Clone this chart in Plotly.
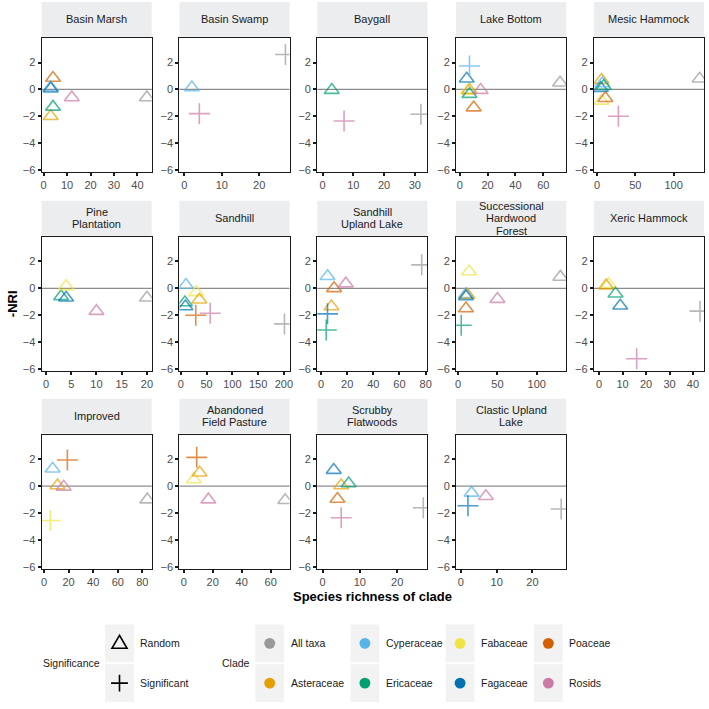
import plotly.graph_objects as go

# ---------------- data ----------------
PANELS = ["Basin Marsh", "Basin Swamp", "Baygall", "Lake Bottom", "Mesic Hammock",
          "Pine Plantation", "Sandhill", "Sandhill Upland Lake", "Successional Hardwood Forest", "Xeric Hammock",
          "Improved", "Abandoned Field Pasture", "Scrubby Flatwoods", "Clastic Upland Lake"]
STRIP_LABELS = [["Basin Marsh"], ["Basin Swamp"], ["Baygall"], ["Lake Bottom"], ["Mesic Hammock"],
                ["Pine", "Plantation"], ["Sandhill"], ["Sandhill", "Upland Lake"],
                ["Successional", "Hardwood", "Forest"], ["Xeric Hammock"],
                ["Improved"], ["Abandoned", "Field Pasture"], ["Scrubby", "Flatwoods"],
                ["Clastic Upland", "Lake"]]
X_RANGES = [[-0.85, 46.1], [-1.3, 28.1], [-1.7, 34.1], [-2.6, 76.4], [-3.9, 139.7],
            [-0.85, 20.95], [-2.5, 210.9], [-2.8, 81.3], [-2.5, 137.4], [-2.2, 44.7],
            [-1.9, 87.6], [-2.9, 73.0], [-1.4, 28.1], [-1.3, 29.4]]
X_DTICKS = [10, 10, 10, 20, 50, 5, 50, 20, 50, 10, 20, 20, 10, 10]
Y_RANGE = [-6.15, 3.85]
Y_TICKS = [-6, -4, -2, 0, 2]

HABITAT = (["Basin Marsh"] * 7 + ["Basin Swamp"] * 3 + ["Baygall"] * 3 + ["Lake Bottom"] * 8 +
           ["Mesic Hammock"] * 8 + ["Pine Plantation"] * 5 + ["Sandhill"] * 8 +
           ["Sandhill Upland Lake"] * 7 + ["Successional Hardwood Forest"] * 8 + ["Xeric Hammock"] * 6 +
           ["Improved"] * 6 + ["Abandoned Field Pasture"] * 5 + ["Scrubby Flatwoods"] * 6 +
           ["Clastic Upland Lake"] * 4)
CLADE = [
    "Asteraceae", "Ericaceae", "Poaceae", "Cyperaceae", "Fagaceae", "Rosids", "All taxa",
    "Cyperaceae", "Rosids", "All taxa",
    "Ericaceae", "Rosids", "All taxa",
    "Fabaceae", "Asteraceae", "Ericaceae", "Fagaceae", "Cyperaceae", "Rosids", "Poaceae", "All taxa",
    "Fabaceae", "Poaceae", "Asteraceae", "Fagaceae", "Cyperaceae", "Ericaceae", "Rosids", "All taxa",
    "Ericaceae", "Fagaceae", "Fabaceae", "Rosids", "All taxa",
    "Cyperaceae", "Fabaceae", "Asteraceae", "Ericaceae", "Fagaceae", "Poaceae", "Rosids", "All taxa",
    "Cyperaceae", "Poaceae", "Rosids", "Asteraceae", "Fagaceae", "Ericaceae", "All taxa",
    "Cyperaceae", "Asteraceae", "Fagaceae", "Fabaceae", "Poaceae", "Ericaceae", "Rosids", "All taxa",
    "Fabaceae", "Asteraceae", "Ericaceae", "Fagaceae", "Rosids", "All taxa",
    "Cyperaceae", "Poaceae", "Asteraceae", "Rosids", "Fabaceae", "All taxa",
    "Fabaceae", "Asteraceae", "Poaceae", "Rosids", "All taxa",
    "Fagaceae", "Asteraceae", "Ericaceae", "Poaceae", "Rosids", "All taxa",
    "Cyperaceae", "Rosids", "Fagaceae", "All taxa",
]
RICHNESS = [
    3, 4, 4, 3, 3, 12, 44,
    2, 4, 27,
    3, 7, 32,
    6, 7, 7, 5, 7, 15, 10, 72,
    6, 11, 6, 5, 7, 9, 28, 134,
    3, 4, 4, 10, 20,
    10, 30, 36, 8, 9, 29, 57, 201,
    5, 10, 19, 8, 5, 4, 77,
    10, 12, 10, 14, 10, 4, 50, 130,
    4, 3, 7, 9, 16, 43,
    7, 19, 11, 16, 5, 84,
    7, 11, 9, 17, 70,
    3, 5, 7, 4, 5, 27,
    3, 7, 2, 28,
]
NEG_NRI = [
    -2.0, -1.3, 0.85, 0.15, 0.05, -0.6, -0.6,
    0.15, -1.8, 2.6,
    -0.05, -2.35, -1.85,
    -0.1, -0.05, -0.35, 0.8, 1.75, -0.05, -1.35, 0.5,
    -0.85, -0.65, 0.7, 0.1, 0.45, 0.25, -2.0, 0.8,
    -0.6, -0.7, 0.15, -1.7, -0.7,
    0.25, -0.3, -0.85, -1.05, -1.35, -2.0, -1.85, -2.65,
    0.9, 0.0, 0.35, -1.35, -1.9, -3.1, 1.75,
    -0.45, -0.5, -0.6, 1.25, -1.5, -2.75, -0.8, 0.85,
    0.3, 0.2, -0.4, -1.3, -5.25, -1.7,
    1.3, 1.95, 0.05, -0.05, -2.55, -1.0,
    0.5, 1.0, 2.15, -1.0, -1.05,
    1.2, 0.05, 0.2, -0.95, -2.35, -1.6,
    -0.5, -0.75, -1.45, -1.7,
]
SIGNIF = [
    "Random"] * 7 + [
    "Random", "Significant", "Significant",
    "Random", "Significant", "Significant",
    "Random", "Random", "Random", "Random", "Significant", "Random", "Random", "Random",
    "Random", "Random", "Random", "Random", "Random", "Random", "Significant", "Random"] + [
    "Random"] * 5 + [
    "Random", "Random", "Random", "Random", "Random", "Significant", "Significant", "Significant",
    "Random", "Random", "Random", "Random", "Significant", "Significant", "Significant",
    "Random", "Random", "Random", "Random", "Random", "Significant", "Random", "Random",
    "Random", "Random", "Random", "Random", "Significant", "Significant",
    "Random", "Significant", "Random", "Random", "Significant", "Random",
    "Random", "Random", "Significant", "Random", "Random",
    "Random", "Random", "Random", "Random", "Significant", "Significant",
    "Random", "Random", "Significant", "Significant",
]

CLADE_ORDER = ["All taxa", "Asteraceae", "Cyperaceae", "Ericaceae", "Fabaceae", "Fagaceae", "Poaceae", "Rosids"]
CLADE_COLORS = ["#999999", "#E69F00", "#56B4E9", "#009E73", "#F0E442", "#0072B2", "#D55E00", "#CC79A7"]
SIG_ORDER = ["Random", "Significant"]
SIG_SYMBOLS = ["triangle-up-open", "cross-thin-open"]
SIG_SIZES = [13, 15]

# ---------------- layout geometry (pixels) ----------------
W = H = 709
COLS_X = [(40, 151), (179, 290), (318, 429), (458, 569), (597, 708)]
ROWS_Y = [(38, 173), (238, 373), (437, 572)]
STRIP_H = 35
STRIP_LINE = 12.4
FONT = "Liberation Sans, Arial, Helvetica, sans-serif"


def px(x):
    return x / W


def py(y):
    return 1 - y / H


color_of = dict(zip(CLADE_ORDER, CLADE_COLORS))
sym_of = dict(zip(SIG_ORDER, SIG_SYMBOLS))
size_of = dict(zip(SIG_ORDER, SIG_SIZES))

fig = go.Figure()
shapes = []
annotations = []
layout = {}

for i, panel in enumerate(PANELS):
    r, c = divmod(i, 5)
    n = i + 1
    xa = "x" if n == 1 else f"x{n}"
    ya = "y" if n == 1 else f"y{n}"
    idx = [k for k, h in enumerate(HABITAT) if h == panel]
    fig.add_trace(go.Scatter(
        x=[RICHNESS[k] for k in idx],
        y=[NEG_NRI[k] for k in idx],
        mode="markers",
        xaxis=xa, yaxis=ya,
        showlegend=False,
        text=[f"{CLADE[k]} ({SIGNIF[k]})" for k in idx],
        marker=dict(
            symbol=[sym_of[SIGNIF[k]] for k in idx],
            size=[size_of[SIGNIF[k]] for k in idx],
            color=[color_of[CLADE[k]] for k in idx],
            line=dict(width=1.6),
        ),
    ))
    x0, x1 = COLS_X[c]
    y0, y1 = ROWS_Y[r]
    axis_common = dict(showgrid=False, zeroline=False, showline=True, mirror=True,
                       linecolor="#1a1a1a", linewidth=1.3, ticks="outside", ticklen=3,
                       tickwidth=2, tickcolor="#1a1a1a",
                       tickfont=dict(family=FONT, size=11, color="#4d4d4d"))
    layout["xaxis" if n == 1 else f"xaxis{n}"] = dict(
        domain=[px(x0), px(x1)], anchor=ya, range=X_RANGES[i],
        tick0=0, dtick=X_DTICKS[i], **axis_common)
    layout["yaxis" if n == 1 else f"yaxis{n}"] = dict(
        domain=[py(y1), py(y0)], anchor=xa, range=Y_RANGE,
        tickvals=Y_TICKS, **axis_common)
    # zero reference line
    shapes.append(dict(type="line", xref=f"{xa} domain", yref=ya, x0=0, x1=1, y0=0, y1=0,
                       line=dict(color="#8c8c8c", width=1.3), layer="below"))
    # strip
    shapes.append(dict(type="rect", xref="paper", yref="paper",
                       x0=px(x0), x1=px(x1), y0=py(y0 - 1), y1=py(y0 - 1 - STRIP_H),
                       fillcolor="#EBEDEF", line=dict(width=0), layer="below"))
    lines = STRIP_LABELS[i]
    mid = y0 - 1 - STRIP_H / 2
    for li, txt in enumerate(lines):
        ly = mid + (li - (len(lines) - 1) / 2) * STRIP_LINE
        annotations.append(dict(text=txt, xref="paper", yref="paper",
                                x=px((x0 + x1) / 2), y=py(ly),
                                xanchor="center", yanchor="middle", showarrow=False,
                                font=dict(family=FONT, size=11, color="#1a1a1a")))

# axis titles
annotations.append(dict(text="<b>Species richness of clade</b>", xref="paper", yref="paper",
                        x=px(374), y=py(600), xanchor="center", yanchor="middle", showarrow=False,
                        font=dict(family=FONT, size=13, color="#000000")))
annotations.append(dict(text="<b>-NRI</b>", xref="paper", yref="paper",
                        x=px(10), y=py(305), xanchor="center", yanchor="middle", showarrow=False,
                        textangle=-90, font=dict(family=FONT, size=13, color="#000000")))

# ---------------- legend (drawn as layout decorations) ----------------
ROW_C = [647, 687]
BOX_H = 38
BOX_W = 29
LABEL_GAP = 19
LEG_FONT = dict(family=FONT, size=10.5, color="#1a1a1a")


def key_box(cx, cy):
    shapes.append(dict(type="rect", xref="paper", yref="paper",
                       x0=px(cx - BOX_W / 2), x1=px(cx + BOX_W / 2),
                       y0=py(cy + BOX_H / 2), y1=py(cy - BOX_H / 2),
                       fillcolor="#F2F2F2", line=dict(width=0)))


# Significance
SIG_KEY_X = 118.5
annotations.append(dict(text="Significance", xref="paper", yref="paper", x=px(SIG_KEY_X - BOX_W / 2 - 3),
                        y=py(667), xanchor="right", yanchor="middle", showarrow=False, font=LEG_FONT))
for j, lab in enumerate(SIG_ORDER):
    cy = ROW_C[j]
    key_box(SIG_KEY_X, cy)
    if lab == "Random":
        s = 8
        path = (f"M {px(SIG_KEY_X)} {py(cy - s)} L {px(SIG_KEY_X - s * 0.95)} {py(cy + s * 0.62)} "
                f"L {px(SIG_KEY_X + s * 0.95)} {py(cy + s * 0.62)} Z")
    else:
        s = 8.5
        path = (f"M {px(SIG_KEY_X - s)} {py(cy)} L {px(SIG_KEY_X + s)} {py(cy)} "
                f"M {px(SIG_KEY_X)} {py(cy - s)} L {px(SIG_KEY_X)} {py(cy + s)}")
    shapes.append(dict(type="path", xref="paper", yref="paper", path=path,
                       line=dict(color="#000000", width=1.6)))
    annotations.append(dict(text=lab, xref="paper", yref="paper", x=px(SIG_KEY_X + LABEL_GAP), y=py(cy),
                            xanchor="left", yanchor="middle", showarrow=False, font=LEG_FONT))

# Clade
CLADE_KEY_X = [270, 366, 462, 551]
annotations.append(dict(text="Clade", xref="paper", yref="paper", x=px(CLADE_KEY_X[0] - BOX_W / 2 - 3),
                        y=py(667), xanchor="right", yanchor="middle", showarrow=False, font=LEG_FONT))
for j, lab in enumerate(CLADE_ORDER):
    col, row = divmod(j, 2)
    cx, cy = CLADE_KEY_X[col], ROW_C[row]
    key_box(cx, cy)
    rad = 5.5
    shapes.append(dict(type="circle", xref="paper", yref="paper",
                       x0=px(cx - rad), x1=px(cx + rad), y0=py(cy + rad), y1=py(cy - rad),
                       fillcolor=color_of[lab], line=dict(width=0)))
    annotations.append(dict(text=lab, xref="paper", yref="paper", x=px(cx + LABEL_GAP), y=py(cy),
                            xanchor="left", yanchor="middle", showarrow=False, font=LEG_FONT))

fig.update_layout(
    width=W, height=H,
    margin=dict(l=0, r=0, t=0, b=0),
    paper_bgcolor="white", plot_bgcolor="white",
    shapes=shapes, annotations=annotations,
    showlegend=False,
    font=dict(family=FONT),
    **layout,
)

fig.write_html("out.html", config={"displayModeBar": False},
               post_script="document.body.style.margin='0px';")
